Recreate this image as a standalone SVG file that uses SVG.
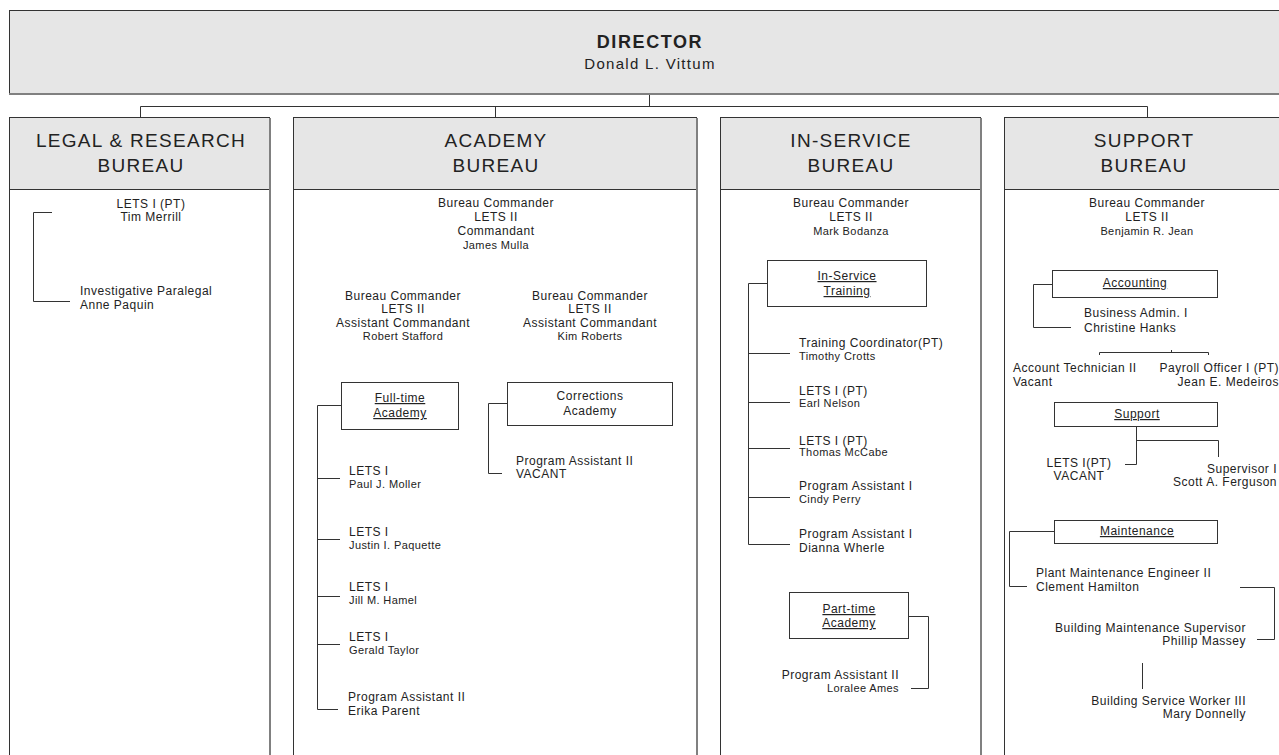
<svg xmlns="http://www.w3.org/2000/svg" width="1279" height="755" viewBox="0 0 1279 755">
<style>
text{font-family:"Liberation Sans",Arial,sans-serif;fill:#222;}
.dir{font-size:18px;font-weight:bold;letter-spacing:1.6px;text-anchor:middle;}
.dn{font-size:15px;letter-spacing:1.3px;text-anchor:middle;}
.hdr{font-size:19px;letter-spacing:1.3px;text-anchor:middle;}
.t{font-size:12px;letter-spacing:0.5px;}
.n{font-size:11px;letter-spacing:0.4px;}
.m{text-anchor:middle;}
.e{text-anchor:end;}
.u{text-decoration:underline;}
.hd{fill:#e6e6e6;stroke:#333;stroke-width:1;}
.body{fill:#fff;stroke:#333;stroke-width:1;}
.shadow{stroke:#808080;stroke-width:2;fill:none;}
.box{fill:#fff;stroke:#333;stroke-width:1;}
.c{fill:none;stroke:#333;stroke-width:1;}
</style>
<rect x="0" y="0" width="1279" height="755" fill="#fff"/>

<g id="director">
<rect class="hd" x="9.5" y="10.5" width="1290" height="83"/>
<line class="shadow" x1="9" y1="94" x2="1279" y2="94"/>
<text class="dir" x="650" y="48">DIRECTOR</text>
<text class="dn" x="650" y="69">Donald L. Vittum</text>
</g>

<g id="legal-bureau">
<rect class="body" x="9.5" y="117.5" width="260" height="660"/>
<rect class="hd" x="9.5" y="117.5" width="260" height="72"/>
<line class="shadow" x1="270" y1="118" x2="270" y2="755"/>
<text class="hdr" x="141" y="147">LEGAL &amp; RESEARCH</text>
<text class="hdr" x="141" y="172">BUREAU</text>
</g>
<g id="legal-lets">
<text class="t m" x="151" y="208">LETS I (PT)</text>
<text class="t m" x="151" y="221">Tim Merrill</text>
</g>
<g id="legal-paralegal">
<text class="t" x="80" y="295">Investigative Paralegal</text>
<text class="t" x="80" y="309">Anne Paquin</text>
</g>

<g id="academy-bureau">
<rect class="body" x="293.5" y="117.5" width="403" height="660"/>
<rect class="hd" x="293.5" y="117.5" width="403" height="72"/>
<line class="shadow" x1="697" y1="118" x2="697" y2="755"/>
<text class="hdr" x="496" y="147">ACADEMY</text>
<text class="hdr" x="496" y="172">BUREAU</text>
</g>
<g id="academy-commander">
<text class="t m" x="496" y="207">Bureau Commander</text>
<text class="t m" x="496" y="221">LETS II</text>
<text class="t m" x="496" y="235">Commandant</text>
<text class="n m" x="496" y="249">James Mulla</text>
</g>
<g id="academy-asst1">
<text class="t m" x="403" y="300">Bureau Commander</text>
<text class="t m" x="403" y="313">LETS II</text>
<text class="t m" x="403" y="327">Assistant Commandant</text>
<text class="n m" x="403" y="340">Robert Stafford</text>
</g>
<g id="academy-asst2">
<text class="t m" x="590" y="300">Bureau Commander</text>
<text class="t m" x="590" y="313">LETS II</text>
<text class="t m" x="590" y="327">Assistant Commandant</text>
<text class="n m" x="590" y="340">Kim Roberts</text>
</g>
<g id="fulltime-academy">
<rect class="box" x="341.5" y="382.5" width="117" height="47"/>
<text class="t m u" x="400" y="402">Full-time</text>
<text class="t m u" x="400" y="417">Academy</text>
</g>
<g id="ft-lets1"><text class="t" x="349" y="475">LETS I</text><text class="n" x="349" y="488">Paul J. Moller</text></g>
<g id="ft-lets2"><text class="t" x="349" y="536">LETS I</text><text class="n" x="349" y="549">Justin I. Paquette</text></g>
<g id="ft-lets3"><text class="t" x="349" y="591">LETS I</text><text class="n" x="349" y="604">Jill M. Hamel</text></g>
<g id="ft-lets4"><text class="t" x="349" y="641">LETS I</text><text class="n" x="349" y="654">Gerald Taylor</text></g>
<g id="ft-pa"><text class="t" x="348" y="701">Program Assistant II</text><text class="t" x="348" y="715">Erika Parent</text></g>
<g id="corrections-academy">
<rect class="box" x="507.5" y="382.5" width="165" height="43"/>
<text class="t m" x="590" y="400">Corrections</text>
<text class="t m" x="590" y="415">Academy</text>
</g>
<g id="corr-pa"><text class="t" x="516" y="465">Program Assistant II</text><text class="t" x="516" y="478">VACANT</text></g>

<g id="inservice-bureau">
<rect class="body" x="720.5" y="117.5" width="260" height="660"/>
<rect class="hd" x="720.5" y="117.5" width="260" height="72"/>
<line class="shadow" x1="981" y1="118" x2="981" y2="755"/>
<text class="hdr" x="851" y="147">IN-SERVICE</text>
<text class="hdr" x="851" y="172">BUREAU</text>
</g>
<g id="inservice-commander">
<text class="t m" x="851" y="207">Bureau Commander</text>
<text class="t m" x="851" y="221">LETS II</text>
<text class="n m" x="851" y="235">Mark Bodanza</text>
</g>
<g id="inservice-training">
<rect class="box" x="767.5" y="260.5" width="159" height="46"/>
<text class="t m u" x="847" y="280">In-Service</text>
<text class="t m u" x="847" y="295">Training</text>
</g>
<g id="is-tc"><text class="t" x="799" y="347">Training Coordinator(PT)</text><text class="n" x="799" y="360">Timothy Crotts</text></g>
<g id="is-lets1"><text class="t" x="799" y="395">LETS I (PT)</text><text class="n" x="799" y="407">Earl Nelson</text></g>
<g id="is-lets2"><text class="t" x="799" y="445">LETS I (PT)</text><text class="n" x="799" y="456">Thomas McCabe</text></g>
<g id="is-pa1"><text class="t" x="799" y="490">Program Assistant I</text><text class="n" x="799" y="503">Cindy Perry</text></g>
<g id="is-pa2"><text class="t" x="799" y="538">Program Assistant I</text><text class="t" x="799" y="552">Dianna Wherle</text></g>
<g id="parttime-academy">
<rect class="box" x="789.5" y="592.5" width="119" height="46"/>
<text class="t m u" x="849" y="613">Part-time</text>
<text class="t m u" x="849" y="627">Academy</text>
</g>
<g id="pt-pa"><text class="t e" x="899" y="679">Program Assistant II</text><text class="n e" x="899" y="692">Loralee Ames</text></g>

<g id="support-bureau">
<rect class="body" x="1004.5" y="117.5" width="300" height="660"/>
<rect class="hd" x="1004.5" y="117.5" width="300" height="72"/>
<text class="hdr" x="1144" y="147">SUPPORT</text>
<text class="hdr" x="1144" y="172">BUREAU</text>
</g>
<g id="support-commander">
<text class="t m" x="1147" y="207">Bureau Commander</text>
<text class="t m" x="1147" y="221">LETS II</text>
<text class="n m" x="1147" y="235">Benjamin R. Jean</text>
</g>
<g id="accounting">
<rect class="box" x="1052.5" y="270.5" width="165" height="27"/>
<text class="t m u" x="1135" y="287">Accounting</text>
</g>
<g id="acc-ba"><text class="t" x="1084" y="317">Business Admin. I</text><text class="t" x="1084" y="332">Christine Hanks</text></g>
<g id="acc-tech"><text class="t" x="1013" y="372">Account Technician II</text><text class="t" x="1013" y="386">Vacant</text></g>
<g id="acc-payroll"><text class="t e" x="1279" y="372">Payroll Officer I (PT)</text><text class="t e" x="1279" y="386">Jean E. Medeiros</text></g>
<g id="support">
<rect class="box" x="1054.5" y="402.5" width="163" height="24"/>
<text class="t m u" x="1137" y="418">Support</text>
</g>
<g id="sup-lets"><text class="t m" x="1079" y="467">LETS I(PT)</text><text class="t m" x="1079" y="480">VACANT</text></g>
<g id="sup-supervisor"><text class="t e" x="1277" y="473">Supervisor I</text><text class="t e" x="1277" y="486">Scott A. Ferguson</text></g>
<g id="maintenance">
<rect class="box" x="1054.5" y="520.5" width="163" height="23"/>
<text class="t m u" x="1137" y="535">Maintenance</text>
</g>
<g id="mnt-engineer"><text class="t" x="1036" y="577">Plant Maintenance Engineer II</text><text class="t" x="1036" y="591">Clement Hamilton</text></g>
<g id="mnt-supervisor"><text class="t e" x="1246" y="632">Building Maintenance Supervisor</text><text class="t e" x="1246" y="645">Phillip Massey</text></g>
<g id="mnt-worker"><text class="t e" x="1246" y="705">Building Service Worker III</text><text class="t e" x="1246" y="718">Mary Donnelly</text></g>

<g id="connectors">
<path class="c" d="M649.5 95V106.5M140.5 106.5H1147.5M140.5 106.5V117M495.5 106.5V117M1147.5 106.5V117"/>
<path class="c" d="M52 212.5H33.5V301.5H70"/>
<path class="c" d="M341 405.5H317.5V709.5H338M317.5 478.5H340M317.5 539.5H340M317.5 596.5H340M317.5 644.5H340"/>
<path class="c" d="M507 403.5H488.5V473.5H502"/>
<path class="c" d="M767 283.5H748.5V544.5H790M748.5 353.5H790M748.5 402.5H790M748.5 448.5H790M748.5 497.5H790"/>
<path class="c" d="M909 616.5H928.5V688.5H911"/>
<path class="c" d="M1052 284.5H1033.5V327.5H1071"/>
<path class="c" d="M1099.5 355V352.5H1208.5V355M1171.5 352.5V350"/>
<path class="c" d="M1136.5 427V464.5H1125M1136.5 440.5H1218.5V457"/>
<path class="c" d="M1054 531.5H1009.5V586.5H1027"/>
<path class="c" d="M1240 587.5H1274.5V639.5H1257"/>
<path class="c" d="M1142.5 663V689"/>
</g>
</svg>
